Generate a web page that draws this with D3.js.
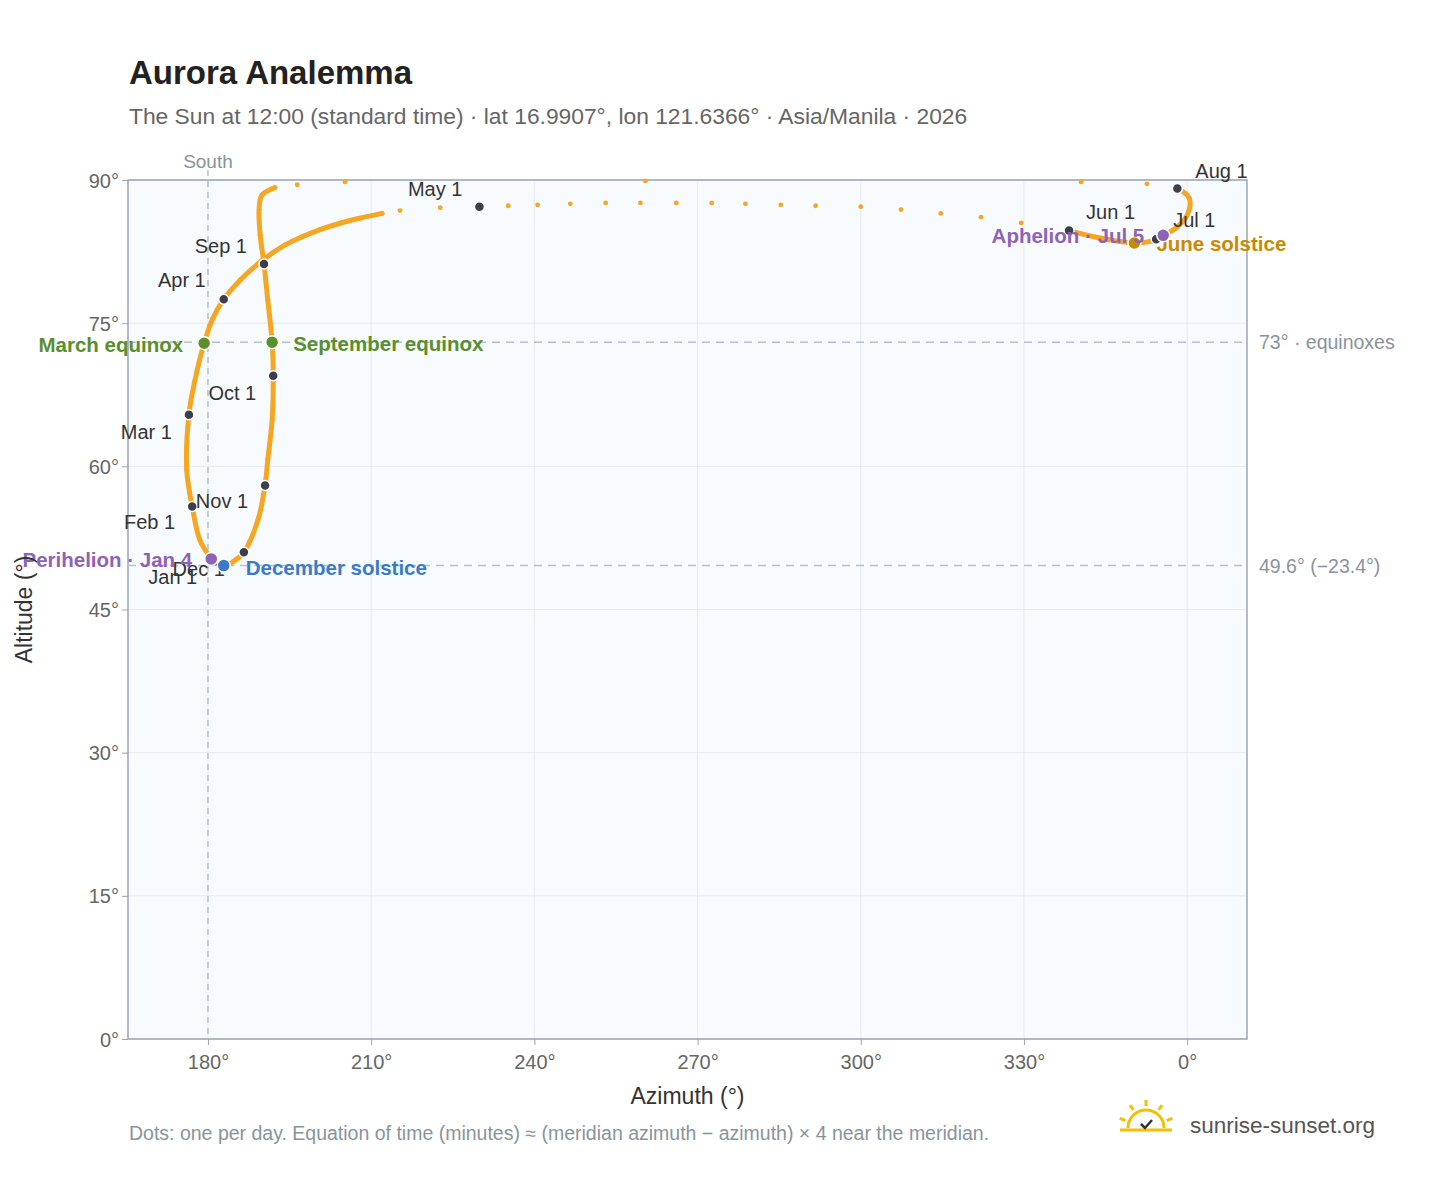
<!DOCTYPE html>
<html><head><meta charset="utf-8">
<script src="https://cdn.jsdelivr.net/npm/d3@7"></script>
<style>body{margin:0;background:#fff;font-family:"Liberation Sans",Arial,sans-serif}</style>
</head><body><div class="container"></div>
<script>
// path, Jan 1 onwards (azimuth, altitude, joined to previous point)
var pathAz  = [180.6,178.5,177.1,176.1,176.5,177.6,179.3,180.9,182.9,185.9,189.6,194.2,200.6,204.5,208.0,212.0,215.3,222.7,229.9,235.2,240.6,246.6,253.1,259.5,266.1,272.6,278.8,285.3,291.7,300.0,307.4,314.7,322.1,329.5,338.3,344.2,350.3,353.4,354.3,355.6,358.0,360.0,360.4,358.2,352.6,340.5,260.4,205.2,196.4,192.3,189.9,189.4,189.6,190.3,191.0,191.8,192.0,191.8,191.0,190.5,189.2,186.6,184.6,182.9,181.3,180.6];
var pathAlt = [50.3,52.3,55.8,59.6,65.4,69.0,72.9,75.5,77.5,79.5,81.4,83.2,84.8,85.5,86.0,86.5,86.8,87.1,87.2,87.3,87.4,87.5,87.6,87.6,87.6,87.6,87.5,87.4,87.3,87.2,86.9,86.5,86.1,85.5,84.7,83.9,83.4,83.6,83.8,84.2,85.0,86.3,88.1,89.1,89.6,89.8,89.9,89.8,89.5,89.2,88.4,86.9,84.2,81.2,77.4,73.0,69.5,64.9,60.7,58.0,54.4,51.0,50.0,49.6,49.9,50.3];
var pathJoin= [0,1,1,1,1,1,1,1,1,1,1,1,1,1,1,1,0,0,0,0,0,0,0,0,0,0,0,0,0,0,0,0,0,0,0,1,1,1,1,1,1,1,1,1,0,0,0,0,0,0,1,1,1,1,1,1,1,1,1,1,1,1,1,1,1,1];

var monthNames = ["Jan 1","Feb 1","Mar 1","Apr 1","May 1","Jun 1","Jul 1","Aug 1","Sep 1","Oct 1","Nov 1","Dec 1"];
var monthAz  = [180.6,177.1,176.5,182.9,229.9,338.3,354.3,358.2,190.3,192.0,190.5,186.6];
var monthAlt = [50.3,55.8,65.4,77.5,87.2,84.7,83.8,89.1,81.2,69.5,58.0,51.0];
var monthLabDx = [-14,-17,-17,-18,-17,17,17,18,-17,-17,-17,-19];
var monthLabDy = [25,23,24,-12,-11,-12,-12,-11,-11,24,23,24];
var monthAnchor = ["end","end","end","end","end","start","start","start","end","end","end","end"];

var eventNames = ["March equinox","September equinox","June solstice","December solstice","Perihelion · Jan 4","Aphelion · Jul 5"];
var eventAz  = [179.3,191.8,350.3,182.9,180.6,355.6];
var eventAlt = [72.9,73.0,83.4,49.6,50.3,84.2];
var eventCol = ["#5a8f2e","#5a8f2e","#c98a00","#3a7bc8","#8e63b5","#8e63b5"];
var eventAnchor = ["end","start","start","start","end","end"];
var eventDx = [-21,21,22,22,-19,-19];
var eventDy = [9,9,8,9,8,8];

var yTicks = [0,15,30,45,60,75,90];
var xTicks = [180,210,240,270,300,330,360];

var W=1448,H=1188, L=128,R=1247,T=180,B=1039;
var svg=d3.select(".container").append("svg").attr("width",W).attr("height",H);
var x=d3.scaleLinear().domain([165.3,371]).range([L,R]);
var y=d3.scaleLinear().domain([0,90]).range([B,T]);

svg.append("rect").attr("x",L).attr("y",T).attr("width",R-L).attr("height",B-T).attr("fill","#f8fbfe");
//grid
svg.append("g").selectAll("line").data(yTicks).join("line").attr("x1",L).attr("x2",R).attr("y1",y).attr("y2",y).attr("stroke","#e6ebf0");
svg.append("g").selectAll("line").data(xTicks).join("line").attr("y1",T).attr("y2",B).attr("x1",x).attr("x2",x).attr("stroke","#e6ebf0");
svg.append("rect").attr("x",L).attr("y",T).attr("width",R-L).attr("height",B-T).attr("fill","none").attr("stroke","#9aa5b1").attr("stroke-width",1.5);

var gx=svg.append("g").attr("transform","translate(0,"+B+")").call(d3.axisBottom(x).tickValues(xTicks).tickSize(6).tickFormat(function(d){return (d%360)+"°";}));
var gy=svg.append("g").attr("transform","translate("+L+",0)").call(d3.axisLeft(y).tickValues(yTicks).tickSize(6).tickFormat(function(d){return d+"°";}));
[gx,gy].forEach(function(g){
	g.select(".domain").remove();
	g.selectAll("line").attr("stroke","#9aa5b1");
	g.selectAll("text").attr("fill","#666").attr("font-size",20).attr("font-family","Liberation Sans, Arial");
});
gx.selectAll("text").attr("dy","1.05em");
gy.selectAll("text").attr("dy","0.35em");

//reference lines
svg.append("line").attr("x1",x(180)).attr("x2",x(180)).attr("y1",T-10).attr("y2",B).attr("stroke","#b4c0cc").attr("stroke-dasharray","6,5").attr("stroke-width",1.5);
svg.append("text").attr("x",x(180)).attr("y",T-12).attr("text-anchor","middle").attr("font-size",19).attr("fill","#8a939c").text("South");
[[73,"73° · equinoxes"],[49.6,"49.6° (−23.4°)"]].forEach(function(r){
	svg.append("line").attr("x1",L).attr("x2",R).attr("y1",y(r[0])).attr("y2",y(r[0])).attr("stroke","#b4c0cc").attr("stroke-dasharray","8,6").attr("stroke-width",1.5);
	svg.append("text").attr("x",R+12).attr("y",y(r[0])+7).attr("font-size",19.5).attr("fill","#8a939c").text(r[1]);
});

//analemma: smooth runs of joined points, dots everywhere
var pts=pathAz.map(function(a,i){return [x(a),y(pathAlt[i]),pathJoin[i]];});
var runs=[],cur=[];
pts.forEach(function(p){
	if(!p[2]){ if(cur.length>1) runs.push(cur); cur=[p]; }
	else cur.push(p);
});
if(cur.length>1) runs.push(cur);
var line=d3.line().curve(d3.curveCatmullRom.alpha(0.5));
svg.append("g").selectAll("path").data(runs).join("path").attr("d",line)
	.attr("fill","none").attr("stroke","#f5a623").attr("stroke-width",5).attr("stroke-linecap","round");
svg.append("g").selectAll("circle").data(pts).join("circle").attr("cx",function(d){return d[0];}).attr("cy",function(d){return d[1];}).attr("r",2.4).attr("fill","#f5a623");

//month markers
var mg=svg.append("g");
monthNames.forEach(function(m,i){
	mg.append("circle").attr("cx",x(monthAz[i])).attr("cy",y(monthAlt[i])).attr("r",5).attr("fill","#3a3f4b").attr("stroke","#fff").attr("stroke-width",1.5);
	mg.append("text").attr("x",x(monthAz[i])+monthLabDx[i]).attr("y",y(monthAlt[i])+monthLabDy[i]).attr("text-anchor",monthAnchor[i]).attr("font-size",20).attr("fill","#333").text(m);
});
//events
eventNames.forEach(function(e,i){
	mg.append("circle").attr("cx",x(eventAz[i])).attr("cy",y(eventAlt[i])).attr("r",6.5).attr("fill",eventCol[i]).attr("stroke","#fff").attr("stroke-width",1.5);
	mg.append("text").attr("x",x(eventAz[i])+eventDx[i]).attr("y",y(eventAlt[i])+eventDy[i]).attr("text-anchor",eventAnchor[i])
		.attr("font-size",20.5).attr("font-weight","bold").attr("fill",eventCol[i]).text(e);
});

//titles
svg.append("text").attr("x",129).attr("y",84).attr("font-size",33).attr("font-weight","bold").attr("fill","#222").text("Aurora Analemma");
svg.append("text").attr("x",129).attr("y",124).attr("font-size",22.8).attr("fill","#666").text("The Sun at 12:00 (standard time) · lat 16.9907°, lon 121.6366° · Asia/Manila · 2026");
svg.append("text").attr("x",(L+R)/2).attr("y",1104).attr("text-anchor","middle").attr("font-size",23).attr("fill","#333").text("Azimuth (°)");
svg.append("text").attr("transform","translate(32,"+((T+B)/2)+") rotate(-90)").attr("text-anchor","middle").attr("font-size",23).attr("fill","#333").text("Altitude (°)");
svg.append("text").attr("x",129).attr("y",1140).attr("font-size",19.5).attr("fill","#8a939c").text("Dots: one per day. Equation of time (minutes) ≈ (meridian azimuth − azimuth) × 4 near the meridian.");
//logo
var lg=svg.append("g").attr("transform","translate(1146,1128)");
lg.append("path").attr("d","M-18,0 A18,18 0 0 1 18,0").attr("fill","none").attr("stroke","#f5c000").attr("stroke-width",3);
[-70,-35,0,35,70].forEach(function(a){var r=a*Math.PI/180;lg.append("line").attr("x1",Math.sin(r)*22).attr("y1",-Math.cos(r)*22).attr("x2",Math.sin(r)*28).attr("y2",-Math.cos(r)*28).attr("stroke","#f5c000").attr("stroke-width",3);});
lg.append("line").attr("x1",-26).attr("x2",26).attr("y1",2).attr("y2",2).attr("stroke","#f5c000").attr("stroke-width",3);
lg.append("path").attr("d","M-5,-4 L-1,0 L6,-8").attr("fill","none").attr("stroke","#333").attr("stroke-width",2.5);
svg.append("text").attr("x",1190).attr("y",1133).attr("font-size",22.5).attr("fill","#555").text("sunrise-sunset.org");
</script></body></html>
